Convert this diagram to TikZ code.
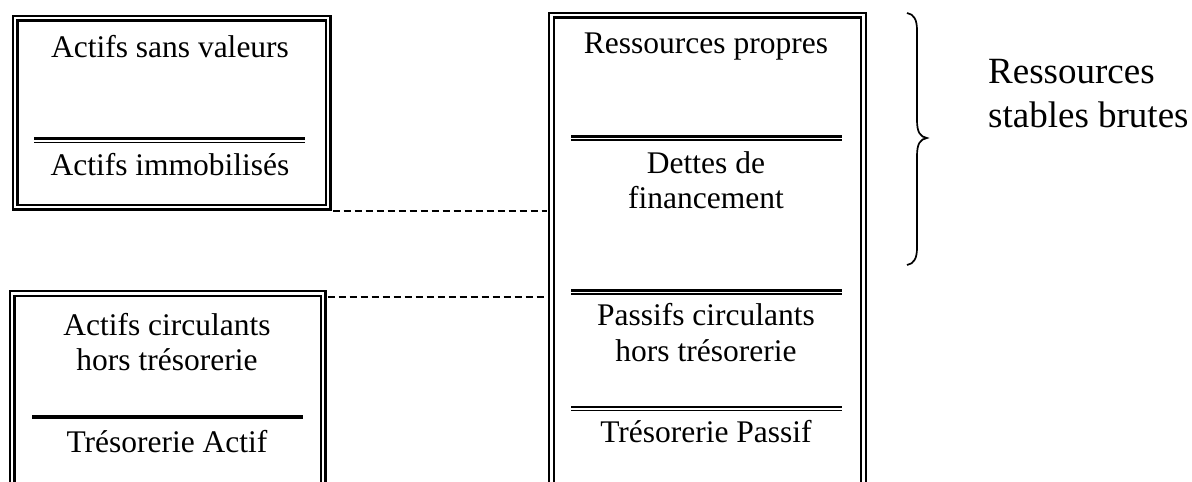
\documentclass[tikz,border=0pt]{standalone}
\usepackage{fontspec}
\setmainfont{Liberation Serif}
\usetikzlibrary{calc}
\tikzset{
  frame/.style={draw, double, line width=2.2pt, double distance=2.6pt, inner sep=0pt, anchor=north west},
  txt/.style={anchor=base, inner sep=0pt, font=\fontsize{31.5}{35}\selectfont},
  bigtxt/.style={anchor=base west, inner sep=0pt, font=\fontsize{37}{43}\selectfont},
  thickrule/.style={line width=2.6pt},
  thinrule/.style={line width=1.4pt},
  dashln/.style={line width=1.6pt, dash pattern=on 7pt off 4pt},
  bracel/.style={line width=1.7pt}
}
\begin{document}
\begin{tikzpicture}[x=1pt,y=-1pt]
\useasboundingbox (0,0) rectangle (1192,482);
\begin{scope}
\clip (0,0) rectangle (1192,482);
% frames
\node[frame, minimum width=313pt, minimum height=189pt] (box1) at (14,17) {};
\node[frame, minimum width=311pt, minimum height=191.5pt] (box2) at (11,292.5) {};
\node[frame, minimum width=312pt, minimum height=470pt] (rbox) at (550.5,14) {};
\end{scope}
% dividers box1
\draw[thickrule] (34,138.7) -- (305,138.7);
\draw[thinrule] (34,142.3) -- (305,142.3);
% divider box2
\draw[line width=3.6pt] (32,417) -- (303,417);
% dividers right box
\draw[thickrule] (571,136.5) -- (842,136.5);
\draw[thinrule] (571,140) -- (842,140);
\draw[thickrule] (571,290.5) -- (842,290.5);
\draw[thinrule] (571,294) -- (842,294);
\draw[thickrule] (571,407) -- (842,407);
\draw[thinrule] (571,410.5) -- (842,410.5);
% texts box1
\node[txt] (t1) at (170,57) {Actifs sans valeurs};
\node[txt] (t2) at (170,175) {Actifs immobilisés};
% texts box2
\node[txt] (t3) at (167,335) {Actifs circulants};
\node[txt] (t4) at (167,370) {hors trésorerie};
\node[txt] (t5) at (167,452) {Trésorerie Actif};
% texts right box
\node[txt] (r1) at (706,53) {Ressources propres};
\node[txt] (r2) at (706,173) {Dettes de};
\node[txt] (r3) at (706,208) {financement};
\node[txt] (r4) at (706,325) {Passifs circulants};
\node[txt] (r5) at (706,361) {hors trésorerie};
\node[txt] (r6) at (706,442) {Trésorerie Passif};
% dashed connectors
\draw[dashln] ($(box1.south east)+(3.5,3)$) -- ($(rbox.west |- box1.south east)+(-3.5,3)$);
\draw[dashln] ($(box2.north east)+(3.5,4.5)$) -- ($(rbox.west |- box2.north east)+(-3.5,4.5)$);
% brace
\draw[bracel] (907,13) .. controls (914,14) and (917,20) .. (917,30) -- (917,120)
  .. controls (917,132) and (920,137) .. (927,138)
  .. controls (920,139) and (917,144) .. (917,156) -- (917,248)
  .. controls (917,258) and (914,264) .. (907,265);
% label
\node[bigtxt] (lab1) at (988,83) {Ressources};
\node[bigtxt] (lab2) at (988,127) {stables brutes};
\end{tikzpicture}
\end{document}
